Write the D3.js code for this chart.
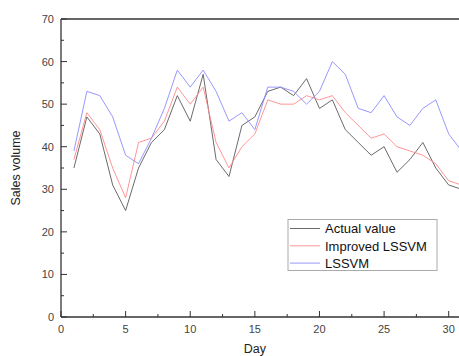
<!DOCTYPE html>
<html>
<head>
<meta charset="utf-8">
<script src="https://cdn.jsdelivr.net/npm/d3@7"></script>
<style>
  body { margin: 0; background: #fff; }
  svg { display: block; font-family: "Liberation Sans", Arial, sans-serif; }
</style>
</head>
<body>
<div id="chart"></div>
<script>
const days = d3.range(1, 32);
const actual = [35, 47, 43, 31, 25, 35, 41, 44, 52, 46, 57, 37, 33, 45, 47, 53, 54, 52, 56, 49, 51, 44, 41, 38, 40, 34, 37, 41, 35, 31, 30];
const improved = [37, 48, 44, 35, 28, 41, 42, 46, 54, 50, 54, 41, 35, 40, 43, 51, 50, 50, 52, 51, 52, 48, 45, 42, 43, 40, 39, 38, 36, 32, 31];
const lssvm = [39, 53, 52, 47, 38, 36, 42, 49, 58, 54, 58, 53, 46, 48, 44, 54, 54, 53, 50, 53, 60, 57, 49, 48, 52, 47, 45, 49, 51, 43, 39];
const seriesNames = ["Actual value", "Improved LSSVM", "LSSVM"];
const seriesColors = ["#5a5a5a", "#ff8a8a", "#8c8cff"];
const xTicks = [0, 5, 10, 15, 20, 25, 30];
const yTicks = [0, 10, 20, 30, 40, 50, 60, 70];

const width = 459, height = 356;
const plotLeft = 61, plotTop = 19, plotBottom = 317;

const svg = d3.select("#chart").append("svg")
    .attr("width", width)
    .attr("height", height);

// x=0 -> 61px, x=30 -> 448.7px, plot is cut at the right edge
const x = d3.scaleLinear().domain([0, 30]).range([plotLeft, 448.7]);
const y = d3.scaleLinear().domain([0, 70]).range([plotBottom, plotTop]);

const axisColor = "#333";

// lines
const line = d3.line().x((d, i) => x(days[i])).y(d => y(d));
[actual, improved, lssvm].forEach((vals, k) => {
    svg.append("path")
        .datum(vals)
        .attr("fill", "none")
        .attr("stroke", seriesColors[k])
        .attr("stroke-width", 0.9)
        .attr("d", line);
});

// x axis, ticks pointing up into the plot
const xAxis = svg.append("g").attr("transform", `translate(0,${plotBottom})`);
xAxis.append("line")
    .attr("x1", plotLeft).attr("x2", width)
    .attr("stroke", axisColor).attr("stroke-width", 1.3);
xAxis.selectAll(".minor")
    .data(d3.range(2.5, 32, 5))
    .join("line")
    .attr("class", "minor")
    .attr("x1", d => x(d)).attr("x2", d => x(d))
    .attr("y1", 0).attr("y2", -3)
    .attr("stroke", axisColor);
xAxis.selectAll(".major")
    .data(xTicks)
    .join("line")
    .attr("class", "major")
    .attr("x1", d => x(d)).attr("x2", d => x(d))
    .attr("y1", 0).attr("y2", -6)
    .attr("stroke", axisColor);
xAxis.selectAll("text")
    .data(xTicks)
    .join("text")
    .attr("x", d => x(d))
    .attr("y", 16)
    .attr("text-anchor", "middle")
    .attr("font-size", 11)
    .attr("fill", "#444")
    .text(d => d);

// y axis, ticks pointing right
const yAxis = svg.append("g").attr("transform", `translate(${plotLeft},0)`);
yAxis.append("line")
    .attr("y1", plotTop).attr("y2", plotBottom)
    .attr("stroke", axisColor).attr("stroke-width", 1.3);
yAxis.selectAll(".minor")
    .data(d3.range(5, 70, 10))
    .join("line")
    .attr("class", "minor")
    .attr("y1", d => y(d)).attr("y2", d => y(d))
    .attr("x1", 0).attr("x2", 3)
    .attr("stroke", axisColor);
yAxis.selectAll(".major")
    .data(yTicks)
    .join("line")
    .attr("class", "major")
    .attr("y1", d => y(d)).attr("y2", d => y(d))
    .attr("x1", 0).attr("x2", 6)
    .attr("stroke", axisColor);
yAxis.selectAll("text")
    .data(yTicks)
    .join("text")
    .attr("x", -7)
    .attr("y", d => y(d) + 4)
    .attr("text-anchor", "end")
    .attr("font-size", 11)
    .attr("fill", "#444")
    .text(d => d);

// top frame line
svg.append("line")
    .attr("x1", plotLeft).attr("x2", width)
    .attr("y1", plotTop).attr("y2", plotTop)
    .attr("stroke", axisColor).attr("stroke-width", 1.3);

// axis titles
svg.append("text")
    .attr("x", x(15))
    .attr("y", 353)
    .attr("text-anchor", "middle")
    .attr("font-size", 12.5)
    .attr("fill", "#222")
    .text("Day");
svg.append("text")
    .attr("transform", `translate(20,${(plotTop + plotBottom) / 2}) rotate(-90)`)
    .attr("text-anchor", "middle")
    .attr("font-size", 12.5)
    .attr("fill", "#222")
    .text("Sales volume");

// legend
const legend = svg.append("g").attr("transform", "translate(288,219.5)");
legend.append("rect")
    .attr("width", 149).attr("height", 51)
    .attr("fill", "#fff")
    .attr("stroke", "#aaa");
seriesNames.forEach((name, k) => {
    const ly = 9 + k * 17.3;
    legend.append("line")
        .attr("x1", 2).attr("x2", 32)
        .attr("y1", ly).attr("y2", ly)
        .attr("stroke", seriesColors[k])
        .attr("stroke-width", 0.9);
    legend.append("text")
        .attr("x", 37)
        .attr("y", ly + 4.8)
        .attr("font-size", 13)
        .attr("fill", "#111")
        .text(name);
});
</script>
</body>
</html>
